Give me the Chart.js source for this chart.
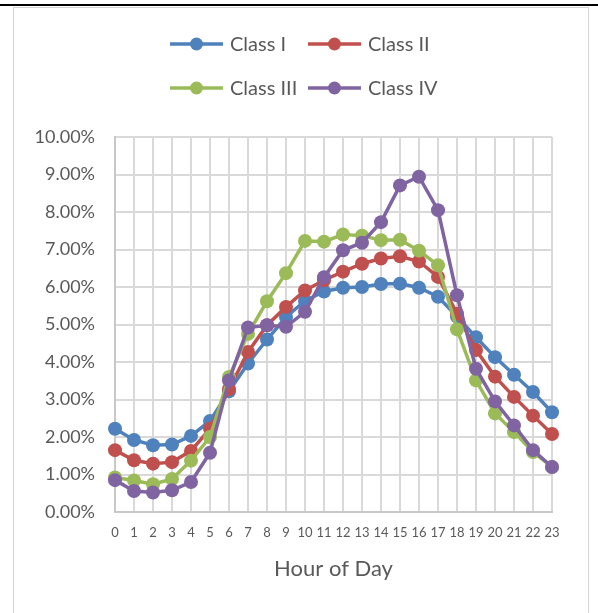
<!DOCTYPE html>
<html>
<head>
<meta charset="utf-8">
<script src="https://cdn.jsdelivr.net/npm/chart.js@4/dist/chart.umd.min.js"></script>
<style>
  html, body { margin: 0; padding: 0; background: #ffffff; }
  #wrap { position: relative; width: 598px; height: 613px; overflow: hidden; }
  #topRule { position: absolute; left: 0; top: 4px; width: 598px; height: 2px; background: #000000; }
  #frame { position: absolute; left: 13px; top: 7px; width: 576px; height: 640px; border: 1px solid #d4d4d4; box-sizing: border-box; }
  #chart { position: absolute; left: 0; top: 0; }
</style>
</head>
<body>
<div id="wrap">
  <div id="topRule"></div>
  <div id="frame"></div>
  <canvas id="chart" width="598" height="613"></canvas>
</div>
<script>
// Share of daily traffic (%) by hour of day, per vehicle class
const hours = ['0','1','2','3','4','5','6','7','8','9','10','11','12','13','14','15','16','17','18','19','20','21','22','23'];
const seriesNames = ['Class I', 'Class II', 'Class III', 'Class IV'];
const classI   = [2.22, 1.92, 1.78, 1.80, 2.03, 2.43, 3.22, 3.96, 4.60, 5.20, 5.63, 5.88, 5.98, 6.00, 6.08, 6.09, 5.98, 5.74, 5.21, 4.66, 4.13, 3.66, 3.20, 2.66];
const classII  = [1.65, 1.38, 1.29, 1.33, 1.63, 2.22, 3.28, 4.27, 4.98, 5.47, 5.91, 6.18, 6.41, 6.62, 6.76, 6.82, 6.68, 6.27, 5.29, 4.32, 3.61, 3.07, 2.57, 2.08];
const classIII = [0.92, 0.84, 0.74, 0.88, 1.37, 2.00, 3.60, 4.75, 5.62, 6.37, 7.23, 7.21, 7.40, 7.37, 7.25, 7.26, 6.97, 6.58, 4.87, 3.51, 2.63, 2.13, 1.60, 1.20];
const classIV  = [0.85, 0.56, 0.52, 0.58, 0.80, 1.58, 3.51, 4.92, 4.98, 4.94, 5.34, 6.26, 6.98, 7.18, 7.73, 8.71, 8.94, 8.05, 5.78, 3.82, 2.95, 2.31, 1.65, 1.20];
const yTickMin = 0, yTickMax = 10, yTickStep = 1;
const xAxisTitle = 'Hour of Day';

const seriesValues = [classI, classII, classIII, classIV];
const palette = ['#4F81BD', '#C0504D', '#9BBB59', '#8064A2'];
const textColor = '#595959';
const fontFamily = 'Lato, "Open Sans", sans-serif';

const datasets = seriesValues.map((vals, i) => ({
  label: seriesNames[i],
  data: vals,
  borderColor: palette[i],
  backgroundColor: palette[i],
  borderWidth: 3.5,
  pointRadius: 7,
  pointHoverRadius: 7,
  pointBorderWidth: 0,
  tension: 0,
  order: seriesValues.length - 1 - i
}));

// Two-column legend with a line-and-marker sample for each series
const gridLegend = {
  id: 'gridLegend',
  afterDraw(chart) {
    const ctx = chart.ctx;
    ctx.save();
    chart.data.datasets.forEach((ds, i) => {
      const col = i % 2, row = Math.floor(i / 2);
      const x0 = 170 + col * 138;
      const y = 44 + row * 44;
      ctx.strokeStyle = ds.borderColor;
      ctx.lineWidth = 3.5;
      ctx.beginPath();
      ctx.moveTo(x0, y);
      ctx.lineTo(x0 + 53, y);
      ctx.stroke();
      ctx.fillStyle = ds.borderColor;
      ctx.beginPath();
      ctx.arc(x0 + 26.5, y, 6.5, 0, Math.PI * 2);
      ctx.fill();
      ctx.fillStyle = textColor;
      ctx.font = '20px ' + fontFamily;
      ctx.textBaseline = 'middle';
      ctx.textAlign = 'left';
      ctx.fillText(ds.label, x0 + 60, y + 1);
    });
    ctx.restore();
  }
};

new Chart(document.getElementById('chart'), {
  type: 'line',
  data: { labels: hours, datasets: datasets },
  plugins: [gridLegend],
  options: {
    responsive: false,
    animation: false,
    events: [],
    layout: { padding: { top: 137, right: 46, bottom: 21, left: 0 } },
    plugins: {
      legend: { display: false },
      tooltip: { enabled: false }
    },
    scales: {
      x: {
        type: 'category',
        offset: false,
        grid: { color: '#d9d9d9', lineWidth: 2, drawTicks: false },
        border: { color: '#c8c8c8', width: 2 },
        ticks: {
          color: textColor,
          font: { family: fontFamily, size: 13 },
          padding: 13,
          maxRotation: 0,
          autoSkip: false
        },
        title: {
          display: true,
          text: xAxisTitle,
          color: textColor,
          font: { family: fontFamily, size: 22 },
          padding: { top: 0, bottom: 10 }
        },
        afterFit(scale) { scale.height = 80; }
      },
      y: {
        min: yTickMin,
        max: yTickMax,
        grid: { color: '#d9d9d9', lineWidth: 2, drawTicks: false },
        border: { color: '#c8c8c8', width: 2 },
        ticks: {
          stepSize: yTickStep,
          color: textColor,
          font: { family: fontFamily, size: 18 },
          padding: 20,
          callback: v => v.toFixed(2) + '%'
        },
        afterFit(scale) { scale.width = 115; }
      }
    }
  }
});
</script>
</body>
</html>
